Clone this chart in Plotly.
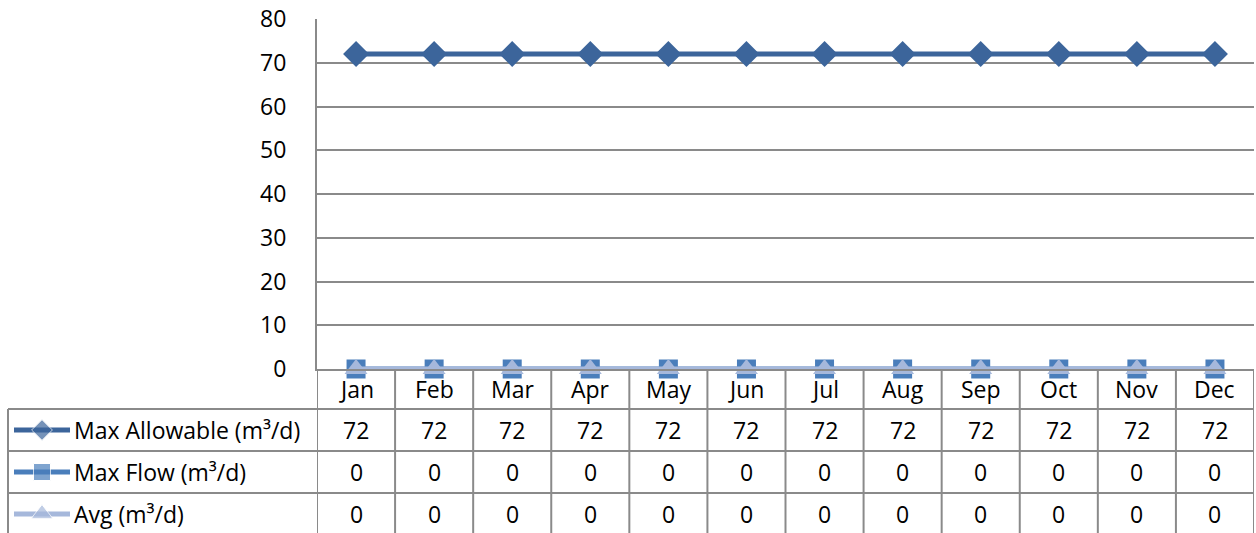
import plotly.graph_objects as go

# chart data
months = ["Jan", "Feb", "Mar", "Apr", "May", "Jun", "Jul", "Aug", "Sep", "Oct", "Nov", "Dec"]
max_allowable = [72, 72, 72, 72, 72, 72, 72, 72, 72, 72, 72, 72]
max_flow = [0, 0, 0, 0, 0, 0, 0, 0, 0, 0, 0, 0]
avg_flow = [0, 0, 0, 0, 0, 0, 0, 0, 0, 0, 0, 0]
series_names = ["Max Allowable (m³/d)", "Max Flow (m³/d)", "Avg (m³/d)"]
y_ticks = [0, 10, 20, 30, 40, 50, 60, 70, 80]

W, H = 1256, 533
FONT = "Open Sans"
FS = 23
GRID = "#8a8a8a"

colors = ["#3c659b", "#4a7ebb", "#a6b8db"]
symbols = ["diamond", "square", "triangle-up"]
plot_sizes = [20, 19, 20]
key_sizes = [16, 17, 19]
series = [max_allowable, max_flow, avg_flow]


def px_x(p):
    return p / W


def px_y(p):
    return 1 - p / H


fig = go.Figure()

# main series, Avg drawn last so it sits on top
for name, vals, c, sym, sz in zip(series_names, series, colors, symbols, plot_sizes):
    fig.add_trace(go.Scatter(
        x=months, y=vals, name=name, mode="lines+markers",
        line=dict(color=c, width=5),
        marker=dict(symbol=sym, size=sz, color=c),
        cliponaxis=False, showlegend=False,
    ))

# legend keys inside the data table (pixel overlay axis)
row_tops = [409, 451, 493]
row_h = 42
for i, (c, sym, ks) in enumerate(zip(colors, symbols, key_sizes)):
    yc = row_tops[i] + row_h / 2
    fig.add_trace(go.Scatter(
        x=[14, 42, 70], y=[yc, yc, yc], mode="lines+markers",
        line=dict(color=c, width=5),
        marker=dict(symbol=sym, size=[0, ks, 0], color=c),
        xaxis="x2", yaxis="y2", showlegend=False, hoverinfo="skip",
    ))

annotations = []
txt_font = dict(family=FONT, size=FS, color="black")

# header row of the table (month names)
for m in months:
    annotations.append(dict(
        x=m, y=px_y(389), xref="x", yref="paper", text=m,
        showarrow=False, xanchor="center", yanchor="middle", font=txt_font,
    ))

for i, name in enumerate(series_names):
    yc = row_tops[i] + row_h / 2
    annotations.append(dict(
        x=px_x(72), y=px_y(yc), xref="paper", yref="paper", text=name,
        showarrow=False, xanchor="left", yanchor="middle", font=txt_font,
    ))
    for m, v in zip(months, series[i]):
        annotations.append(dict(
            x=m, y=px_y(yc), xref="x", yref="paper", text=str(v),
            showarrow=False, xanchor="center", yanchor="middle", font=txt_font,
        ))

# table grid lines
shapes = []
tbl_line = dict(color=GRID, width=2)
for k in range(len(months) + 1):
    shapes.append(dict(type="line", xref="x", yref="paper",
                       x0=k - 0.5, x1=k - 0.5, y0=px_y(369), y1=0, line=tbl_line))
for yy in row_tops:
    shapes.append(dict(type="line", xref="paper", yref="paper",
                       x0=px_x(8), x1=px_x(1254), y0=px_y(yy), y1=px_y(yy), line=tbl_line))
shapes.append(dict(type="line", xref="paper", yref="paper",
                   x0=px_x(8), x1=px_x(8), y0=px_y(409), y1=0, line=tbl_line))

fig.update_layout(
    width=W, height=H,
    margin=dict(l=0, r=0, t=0, b=0, pad=0),
    paper_bgcolor="white", plot_bgcolor="rgba(0,0,0,0)",
    font=dict(family=FONT, size=FS, color="black"),
    xaxis=dict(
        domain=[px_x(317), px_x(1254)], type="category",
        range=[-0.5, len(months) - 0.5], automargin=False,
        showgrid=False, showline=True, linecolor=GRID, linewidth=2,
        ticks="", showticklabels=False, zeroline=False,
    ),
    yaxis=dict(
        domain=[px_y(369), px_y(19)], range=[0, 80], automargin=False,
        tickvals=y_ticks, showgrid=True, gridcolor=GRID, gridwidth=2,
        showline=True, linecolor=GRID, linewidth=2, zeroline=False,
        ticks="", ticklabelstandoff=24, tickfont=dict(family=FONT, size=FS),
    ),
    xaxis2=dict(domain=[0, 1], range=[0, W], visible=False, fixedrange=True,
                automargin=False),
    yaxis2=dict(domain=[0, 1], range=[H, 0], visible=False, fixedrange=True,
                anchor="x2", automargin=False),
    annotations=annotations,
    shapes=shapes,
)

fig.write_html("out.html", config={"displayModeBar": False},
               post_script="document.body.style.margin='0';")
